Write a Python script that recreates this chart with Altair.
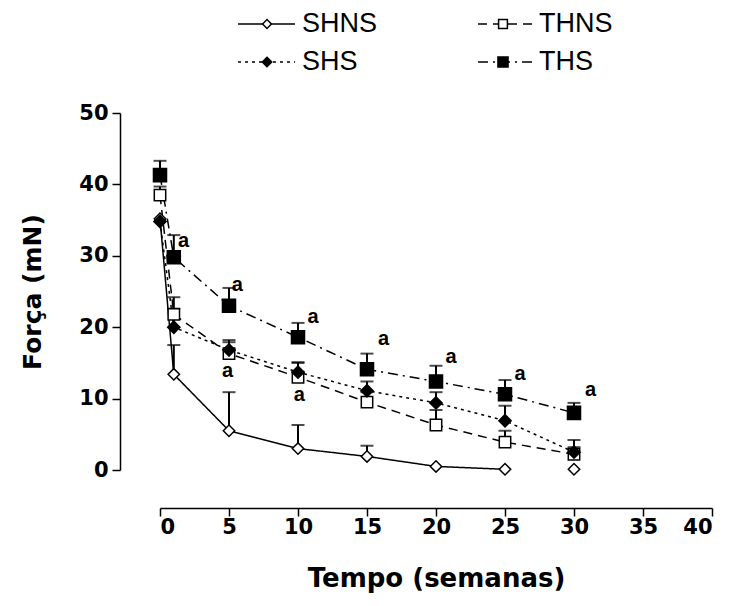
import altair as alt
import pandas as pd

# ---- data ----
weeks = [0, 1, 5, 10, 15, 20, 25, 30]
series_names = ["SHNS", "THNS", "SHS", "THS"]
shns_mean = [35.2, 13.4, 5.5, 3.0, 1.9, 0.5, 0.1, 0.1]
shns_err = [0.0, 4.1, 5.4, 3.3, 1.5, 0.0, 0.0, 0.0]
thns_mean = [38.5, 21.8, 16.3, 13.0, 9.5, 6.3, 3.9, 2.2]
thns_err = [1.2, 2.4, 1.6, 2.0, 1.4, 2.1, 1.6, 1.0]
shs_mean = [34.8, 20.0, 16.8, 13.7, 11.1, 9.4, 6.9, 2.5]
shs_err = [0.0, 2.6, 1.4, 1.4, 1.3, 1.5, 2.1, 1.7]
ths_mean = [41.3, 29.8, 23.0, 18.6, 14.1, 12.4, 10.6, 8.0]
ths_err = [2.0, 3.1, 2.5, 2.0, 2.2, 2.2, 2.0, 1.4]
# last week joined by the line, per series
line_until = [25, 30, 30, 30]

ann_x = [1.7, 5.6, 11.1, 16.2, 21.1, 26.1, 31.2, 4.9, 10.1]
ann_y = [32.1, 25.9, 21.4, 18.3, 15.8, 13.4, 11.2, 13.9, 10.5]
ann_text = ["a"] * 9

x_ticks = [0, 5, 10, 15, 20, 25, 30, 35, 40]
y_ticks = [0, 10, 20, 30, 40, 50]

means = [shns_mean, thns_mean, shs_mean, ths_mean]
errs = [shns_err, thns_err, shs_err, ths_err]

# ---- styles ----
styles = {
    "SHNS": dict(shape="diamond", fill="white", size=130, dash=[1, 0]),
    "THNS": dict(shape="square", fill="white", size=130, dash=[9, 6]),
    "SHS": dict(shape="diamond", fill="black", size=150, dash=[3, 4]),
    "THS": dict(shape="square", fill="black", size=170, dash=[10, 5, 2, 5]),
}

W, H = 552, 357
xs = alt.Scale(domain=[0, 40], nice=False, zero=False)
ys = alt.Scale(domain=[0, 50], nice=False, zero=False)

x_axis = alt.Axis(values=x_ticks, offset=38, tickSize=8, tickWidth=1.5,
                  domainWidth=1.5, domainColor="black", tickColor="black",
                  labelFont="DejaVu Sans", labelFontWeight="bold", labelFontSize=21,
                  labelColor="black", labelPadding=0, grid=False,
                  titleFont="DejaVu Sans",
                  titleFontWeight="bold", titleFontSize=26, titleColor="black",
                  titlePadding=28)
y_axis = alt.Axis(values=y_ticks, offset=40, tickSize=8, tickWidth=1.5,
                  domainWidth=1.5, domainColor="black", tickColor="black",
                  labelFont="DejaVu Sans", labelFontWeight="bold", labelFontSize=21,
                  labelColor="black", labelPadding=4, grid=False,
                  titleFont="DejaVu Sans",
                  titleFontWeight="bold", titleFontSize=25, titleColor="black",
                  titlePadding=33)
XT = "Tempo (semanas)"
YT = "Força (mN)"


def X(field):
    return alt.X(field, scale=xs, axis=x_axis, title=XT)


def Y(field):
    return alt.Y(field, scale=ys, axis=y_axis, title=YT)


line_layers, err_layers, cap_layers, pt_layers = [], [], [], []
for name, m, e, lu in zip(series_names, means, errs, line_until):
    st = styles[name]
    df = pd.DataFrame({"week": weeks, "mean": m, "err": e})
    df["top"] = df["mean"] + df["err"]
    line_layers.append(
        alt.Chart(df[df["week"] <= lu]).mark_line(color="black", strokeWidth=1.5,
                                                  strokeDash=st["dash"])
        .encode(x=X("week:Q"), y=Y("mean:Q")))
    dfe = df[df["err"] > 0]
    err_layers.append(
        alt.Chart(dfe).mark_rule(color="black", strokeWidth=2)
        .encode(x=X("week:Q"), y=Y("mean:Q"), y2="top:Q"))
    cap_layers.append(
        alt.Chart(dfe).mark_tick(color="black", orient="horizontal", size=13, thickness=2)
        .encode(x=X("week:Q"), y=Y("top:Q")))
    pt_layers.append(
        alt.Chart(df).mark_point(shape=st["shape"], filled=True, fill=st["fill"],
                                 stroke="black", strokeWidth=1.5, size=st["size"],
                                 opacity=1, fillOpacity=1, strokeOpacity=1)
        .encode(x=X("week:Q"), y=Y("mean:Q")))

ann_df = pd.DataFrame({"week": ann_x, "val": ann_y, "t": ann_text})
ann = alt.Chart(ann_df).mark_text(font="Liberation Sans", fontWeight="bold",
                                  fontSize=20, color="black", baseline="middle",
                                  align="center").encode(
    x=X("week:Q"), y=Y("val:Q"), text="t:N")

# ---- manual legend (positions relative to the plot origin) ----
leg_pos = {"SHNS": (78, 135, 107, -89), "THNS": (318, 372, 343, -89),
           "SHS": (78, 135, 107, -51), "THS": (318, 372, 343, -51)}
leg_layers = []
for name in series_names:
    st = styles[name]
    x1, x2, xm, yy = leg_pos[name]
    one = pd.DataFrame({"s": [name]})
    leg_layers.append(alt.Chart(one).mark_rule(color="black", strokeWidth=1.5,
                                               strokeDash=st["dash"]).encode(
        x=alt.value(x1), x2=alt.value(x2), y=alt.value(yy)))
    leg_layers.append(alt.Chart(one).mark_point(shape=st["shape"], filled=True,
                                                fill=st["fill"], stroke="black",
                                                strokeWidth=1.5, size=st["size"] * 0.6,
                                                opacity=1).encode(
        x=alt.value(xm), y=alt.value(yy)))
    leg_layers.append(alt.Chart(one).mark_text(font="Liberation Sans", fontSize=27,
                                               color="black", align="left",
                                               baseline="middle").encode(
        x=alt.value(x2 + 7), y=alt.value(yy), text="s:N"))

chart = alt.layer(*line_layers, *err_layers, *cap_layers, *pt_layers, ann, *leg_layers).properties(
    width=W, height=H,
    background="white",
    autosize=alt.AutoSizeParams(type="none"),
    padding={"left": 152, "top": 105, "right": 14, "bottom": 132},
).configure_view(strokeWidth=0)

chart.save("out.html", embed_options={"renderer": "svg", "actions": False})
